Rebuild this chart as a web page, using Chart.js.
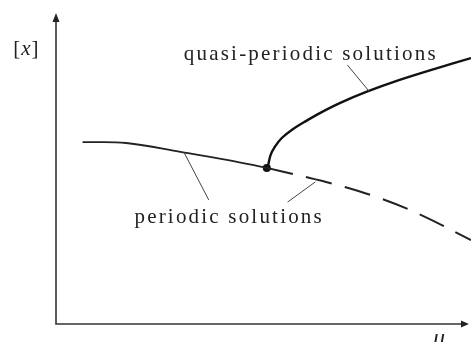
<!DOCTYPE html>
<html lang="en">
<head>
    <meta charset="UTF-8">
    <title>Bifurcation diagram</title>
    <script src="https://cdn.jsdelivr.net/npm/chart.js"></script>
    <style>
        html, body {
            margin: 0;
            padding: 0;
            background: #fff;
        }
        .wrap {
            width: 475px;
            height: 342px;
        }
    </style>
</head>
<body>

<div class="wrap">
    <canvas id="bif" width="475" height="342"></canvas>
</div>

<script>
    // branches in (mu, [x]) units, axes run 0..100
    var periodicStable = [
        {x: 6.4, y: 58.5}, {x: 16.9, y: 58.2}, {x: 30.3, y: 55.3},
        {x: 41.5, y: 52.7}, {x: 50.8, y: 50.2}
    ];
    var periodicUnstable = [
        {x: 50.8, y: 50.2}, {x: 58.2, y: 47.9}, {x: 67.8, y: 44.7},
        {x: 77.3, y: 40.8}, {x: 86.9, y: 35.7}, {x: 100, y: 27.0}
    ];
    var quasiPeriodic = [
        {x: 51.0, y: 50.2}, {x: 51.7, y: 54.3}, {x: 52.8, y: 57.1},
        {x: 54.4, y: 59.8}, {x: 56.8, y: 62.4}, {x: 59.9, y: 65.0},
        {x: 63.7, y: 67.9}, {x: 68.5, y: 71.1}, {x: 74.9, y: 74.7},
        {x: 82.8, y: 78.5}, {x: 90.9, y: 81.9}, {x: 100, y: 85.5}
    ];
    var bifPoint = [{x: 50.8, y: 50.2}];

    // text labels and their pointer lines
    var labels = [
        {text: 'quasi-periodic solutions', x: 30.8, y: 84.9},
        {text: 'periodic solutions', x: 18.9, y: 32.5}
    ];
    var axisLabels = [
        {pre: '[', sym: 'x', post: ']', x: -10.3, y: 86.5, size: 21},
        {pre: '', sym: 'μ', post: '', x: 90.6, y: -6.8, size: 24}
    ];
    var pointers = [
        [{x: 70.2, y: 83.3}, {x: 75.4, y: 74.9}],
        [{x: 30.8, y: 55.3}, {x: 36.8, y: 39.9}],
        [{x: 62.5, y: 45.7}, {x: 55.8, y: 39.2}]
    ];

    var ink = '#222';
    var serif = '"Liberation Serif", "DejaVu Serif", serif';

    // arrows for the axes + labels and pointer strokes
    var decorations = {
        id: 'decorations',
        afterDatasetsDraw: function (chart) {
            var ctx = chart.ctx;
            var sx = chart.scales.x, sy = chart.scales.y;
            var left = sx.getPixelForValue(0), bottom = sy.getPixelForValue(0);
            var right = sx.getPixelForValue(99.5), top = sy.getPixelForValue(100);

            ctx.save();
            ctx.strokeStyle = '#333';
            ctx.fillStyle = '#222';
            ctx.lineWidth = 1.6;
            ctx.beginPath();
            ctx.moveTo(left, top + 6);
            ctx.lineTo(left, bottom);
            ctx.lineTo(right - 5, bottom);
            ctx.stroke();

            ctx.beginPath();
            ctx.moveTo(left, top);
            ctx.lineTo(left - 3.5, top + 9);
            ctx.lineTo(left + 3.5, top + 9);
            ctx.closePath();
            ctx.fill();

            ctx.beginPath();
            ctx.moveTo(right, bottom);
            ctx.lineTo(right - 8, bottom - 3.5);
            ctx.lineTo(right - 8, bottom + 3.5);
            ctx.closePath();
            ctx.fill();

            ctx.strokeStyle = '#444';
            ctx.lineWidth = 1;
            pointers.forEach(function (p) {
                ctx.beginPath();
                ctx.moveTo(sx.getPixelForValue(p[0].x), sy.getPixelForValue(p[0].y));
                ctx.lineTo(sx.getPixelForValue(p[1].x), sy.getPixelForValue(p[1].y));
                ctx.stroke();
            });

            ctx.fillStyle = ink;
            ctx.textBaseline = 'alphabetic';
            ctx.font = '21px ' + serif;
            ctx.letterSpacing = '2.2px';
            labels.forEach(function (l) {
                ctx.fillText(l.text, sx.getPixelForValue(l.x), sy.getPixelForValue(l.y));
            });

            // upright brackets around an italic symbol
            ctx.letterSpacing = '0px';
            axisLabels.forEach(function (l) {
                var px = sx.getPixelForValue(l.x), py = sy.getPixelForValue(l.y);
                ctx.font = l.size + 'px ' + serif;
                ctx.fillText(l.pre, px, py);
                px += ctx.measureText(l.pre).width + 1;
                ctx.font = 'italic ' + l.size + 'px ' + serif;
                ctx.fillText(l.sym, px, py);
                px += ctx.measureText(l.sym).width + 1;
                ctx.font = l.size + 'px ' + serif;
                ctx.fillText(l.post, px, py);
            });
            ctx.restore();
        }
    };

    var ctx = document.getElementById('bif').getContext('2d');
    new Chart(ctx, {
        type: 'scatter',
        data: {
            datasets: [
                {
                    data: periodicStable,
                    showLine: true,
                    borderColor: ink,
                    borderWidth: 1.8,
                    pointRadius: 0,
                    tension: 0.4
                },
                {
                    data: periodicUnstable,
                    showLine: true,
                    borderColor: ink,
                    borderWidth: 2,
                    borderDash: [27, 13],
                    pointRadius: 0,
                    tension: 0.4
                },
                {
                    data: quasiPeriodic,
                    showLine: true,
                    borderColor: '#111',
                    borderWidth: 2.4,
                    pointRadius: 0,
                    tension: 0.3
                },
                {
                    data: bifPoint,
                    showLine: false,
                    pointRadius: 4,
                    pointBackgroundColor: '#111',
                    pointBorderWidth: 0
                }
            ]
        },
        options: {
            responsive: false,
            animation: false,
            events: [],
            layout: {
                padding: {left: 56, right: 0, top: 13, bottom: 18}
            },
            scales: {
                x: {type: 'linear', min: 0, max: 100, display: false},
                y: {type: 'linear', min: 0, max: 100, display: false}
            },
            plugins: {
                legend: {display: false},
                tooltip: {enabled: false}
            }
        },
        plugins: [decorations]
    });
</script>

</body>
</html>
